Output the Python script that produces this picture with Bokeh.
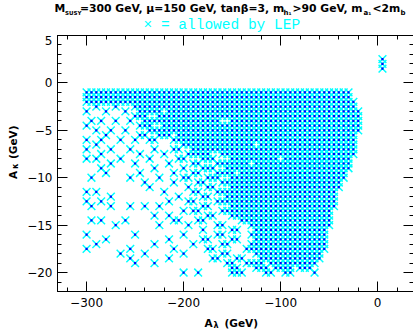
import numpy as np
from bokeh.plotting import figure
from bokeh.layouts import column, row
from bokeh.models import Range1d, LinearAxis, SingleIntervalTicker, CustomJSTickFormatter, ColumnDataSource
from bokeh.core.properties import value
from bokeh.embed import file_html
from bokeh.resources import INLINE

# ---- data (scan grid: 5 GeV in A_lambda, 0.5 GeV in A_kappa) ----
# dense runs of allowed points: row A_kappa, first A_lambda, last A_lambda
seg_y = [-1.0, -1.5, -2.0,
         -2.5, -3.0, -3.0, -3.5, -3.5, -4.0, -4.0, -4.5, -4.5, -5.0,
         -5.5, -5.5, -5.5, -6.0, -6.0, -6.5, -6.5, -7.0, -7.0,
         -7.5, -7.5, -8.0, -8.0, -8.0, -8.0, -8.5, -8.5, -8.5, -9.0, -9.0,
         -9.5, -9.5, -9.5, -10.0, -10.0, -10.0, -10.5, -10.5, -11.0, -11.0,
         -11.5, -11.5, -12.0, -12.0, -12.5, -12.5, -13.0, -13.0,
         -13.5, -13.5, -14.0, -14.0, -14.5, -14.5, -15.0, -15.0,
         -15.5, -15.5, -16.0, -16.0, -16.5, -16.5, -16.5, -17.0, -17.0,
         -17.5, -17.5, -18.0, -18.0, -18.5, -18.5, -18.5,
         -19.0, -19.0, -19.0, -19.5, -19.5, -19.5, -19.5,
         -20.0, -20.0, -20.0]
seg_x0 = [-300, -300, -300,
          -250, -245, -215, -250, -225, -240, -150, -245, -220, -235,
          -245, -225, -205, -235, -210, -200, -120, -210, -190,
          -195, -160, -205, -180, -150, -95, -190, -165, -125, -180, -155,
          -190, -165, -140, -200, -175, -150, -185, -160, -175, -150,
          -190, -165, -180, -155, -195, -165, -180, -150,
          -190, -160, -175, -150, -185, -140, -165, -130,
          -150, -125, -165, -130, -180, -150, -125, -160, -130,
          -175, -135, -160, -125, -170, -145, -120,
          -155, -135, -110, -150, -125, -105, -80,
          -150, -115, -95]
seg_x1 = [-30, -30, -25,
          -25, -225, -20, -240, -20, -165, -20, -235, -20, -20,
          -240, -215, -25, -230, -25, -130, -25, -205, -25,
          -175, -25, -200, -170, -105, -30, -185, -135, -30, -170, -30,
          -185, -150, -35, -195, -165, -35, -180, -40, -170, -40,
          -185, -45, -175, -45, -190, -45, -175, -45,
          -185, -50, -170, -50, -180, -50, -160, -50,
          -145, -55, -160, -55, -175, -145, -55, -155, -55,
          -170, -55, -155, -60, -165, -140, -60,
          -150, -120, -65, -145, -115, -90, -70,
          -140, -110, -90]

# isolated allowed points
iso_x = [-290, -270,
         -300, -280, -260,
         -295, -285, -270, -255,
         -300,
         -290, -275, -260,
         -280,
         -300, -285, -265, -250,
         -290,
         -300, -275, -255, -230,
         -285, -245, -220,
         -300, -290, -265, -235,
         -275, -250, -215,
         -285, -230, -200,
         -280, -245, -210,
         -295, -255, -225,
         -240, -210,
         -235, -195,
         -300, -290, -220,
         -275, -205,
         -300, -285, -215,
         -295, -275, -255, -240, -225,
         -200,
         -230, -215,
         -295, -285, -260, -210, -205,
         -270, -225, -195,
         -180,
         -300, -250, -200,
         -280, -215,
         -290, -230, -190,
         -300, -255, -210,
         -265, -240, -200,
         -255, -215,
         -250, -230,
         -200, -185, -65]
iso_y = [-2.5, -2.5,
         -3.0, -3.0, -3.0,
         -4.0, -4.0, -4.0, -4.0,
         -4.5,
         -5.0, -5.0, -5.0,
         -5.5,
         -6.0, -6.0, -6.0, -6.0,
         -6.5,
         -7.0, -7.0, -7.0, -7.0,
         -7.5, -7.5, -7.5,
         -8.0, -8.0, -8.0, -8.0,
         -8.5, -8.5, -8.5,
         -9.0, -9.0, -9.0,
         -9.5, -9.5, -9.5,
         -10.0, -10.0, -10.0,
         -10.5, -10.5,
         -11.0, -11.0,
         -11.5, -11.5, -11.5,
         -12.0, -12.0,
         -12.5, -12.5, -12.5,
         -13.0, -13.0, -13.0, -13.0, -13.0,
         -13.5,
         -14.0, -14.0,
         -14.5, -14.5, -14.5, -14.5, -14.5,
         -15.0, -15.0, -15.0,
         -15.5,
         -16.0, -16.0, -16.0,
         -16.5, -16.5,
         -17.0, -17.0, -17.0,
         -17.5, -17.5, -17.5,
         -18.0, -18.0, -18.0,
         -18.5, -18.5,
         -19.0, -19.0,
         -20.0, -20.0, -20.0]

# small group at positive A_kappa
grp_x = [5, 5, 5]
grp_y = [1.5, 2.0, 2.5]

x_tick_step = 100
y_tick_step = 5

# ---- expand runs onto the scan grid ----
xs, ys = [], []
for yy, a, b in zip(seg_y, seg_x0, seg_x1):
    for xx in np.arange(a, b + 1, 5):
        xs.append(float(xx)); ys.append(yy)
xs += [float(v) for v in iso_x] + [float(v) for v in grp_x]
ys += list(iso_y) + list(grp_y)
src = ColumnDataSource(dict(x=xs, y=ys))

W, H = 413, 332
TOP_H = 35            # title strip
YL_W = 24             # y-label strip
FW, FH = 356, 256     # plot frame
P_LEFT, P_RIGHT, P_BOTTOM = 54 - YL_W, 3, 24
P_W = P_LEFT + FW + P_RIGHT
P_H = FH + P_BOTTOM
XL_H = H - TOP_H - P_H

def strip(w, h):
    f = figure(width=w, height=h, x_range=Range1d(0, w), y_range=Range1d(0, h),
               output_backend="svg", toolbar_location=None,
               x_axis_location=None, y_axis_location=None,
               min_border_left=0, min_border_right=0, min_border_top=0, min_border_bottom=0)
    f.grid.visible = False
    f.outline_line_color = None
    f.background_fill_color = "white"
    f.border_fill_color = "white"
    return f

def txt(f, h, items, size, font="DejaVu Sans", style="bold", color="black", angle=0.0):
    # items: (text, x pixel, y pixel from top of strip)
    f.text(x=[it[1] for it in items], y=[h - it[2] for it in items], text=[it[0] for it in items],
           text_font=value(font), text_font_size=value(size), text_font_style=style,
           text_color=color, text_align="left", text_baseline="middle", angle=angle)

# ---- title strip ----
t = strip(W, TOP_H)
T = "10.5px"
TT = "10.8px"
txt(t, TOP_H, [("M", 54, 7.5), ("=300 GeV, μ=150 GeV, tanβ=3, m", 79.5, 7.5),
               (">90 GeV, m", 292, 7.5), ("<2m", 372, 7.5)], TT)
txt(t, TOP_H, [("SUSY", 64.5, 12)], "5.5px")
txt(t, TOP_H, [("h₁", 283, 12), ("a₁", 363, 12), ("b", 400, 12)], "7px")
txt(t, TOP_H, [("× = allowed by LEP", 143, 24)], "14.5px", font="Liberation Mono",
    style="normal", color="#00FFFF")

# ---- y-label strip ----
yl = strip(YL_W, P_H)
txt(yl, P_H, [("A", 12, 192 - TOP_H), ("(GeV)", 12, 170 - TOP_H)], T, angle=np.pi / 2)
txt(yl, P_H, [("κ", 15, 181 - TOP_H)], "8px", angle=np.pi / 2)

# ---- x-label strip ----
xl = strip(W, XL_H)
y0 = TOP_H + P_H
txt(xl, XL_H, [("A", 204, 322 - y0), ("(GeV)", 224, 322 - y0)], T)
txt(xl, XL_H, [("λ", 213, 325 - y0)], "8px")

# ---- main plot ----
p = figure(frame_width=FW, frame_height=FH,
           x_range=Range1d(-330, 37), y_range=Range1d(-22, 5),
           output_backend="svg", toolbar_location=None,
           min_border_left=P_LEFT, min_border_right=P_RIGHT,
           min_border_top=0, min_border_bottom=P_BOTTOM)
p.grid.visible = False
p.outline_line_color = "black"
p.outline_line_width = 1
p.background_fill_color = "white"
p.border_fill_color = "white"

def style(ax, labels=True):
    ax.major_tick_in = 10
    ax.major_tick_out = 0
    ax.minor_tick_in = 4
    ax.minor_tick_out = 0
    ax.axis_line_color = "black"
    ax.major_tick_line_color = "black"
    ax.minor_tick_line_color = "black"
    if labels:
        ax.major_label_text_font = "DejaVu Sans"
        ax.major_label_text_font_size = "12px"
        ax.major_label_text_color = "black"
    else:
        ax.formatter = CustomJSTickFormatter(code="return ''")
        ax.major_label_text_font_size = "1px"
        ax.major_label_standoff = 0

p.xaxis.ticker = SingleIntervalTicker(interval=x_tick_step, num_minor_ticks=5)
p.yaxis.ticker = SingleIntervalTicker(interval=y_tick_step, num_minor_ticks=5)
style(p.xaxis[0]); style(p.yaxis[0])
p.xaxis.major_label_standoff = 6
p.yaxis.major_label_standoff = 5

top = LinearAxis(ticker=SingleIntervalTicker(interval=x_tick_step, num_minor_ticks=5))
right = LinearAxis(ticker=SingleIntervalTicker(interval=y_tick_step, num_minor_ticks=5))
style(top, False); style(right, False)
p.add_layout(top, "above")
p.add_layout(right, "right")

p.scatter("x", "y", source=src, marker="x", size=11, line_color="#00FFFF", line_width=1.5)
p.scatter("x", "y", source=src, marker="square", size=2.2, fill_color="#0000FF", line_color=None)

layout = column(t, row(yl, p), xl)
open("out.html", "w").write(file_html(layout, INLINE))
